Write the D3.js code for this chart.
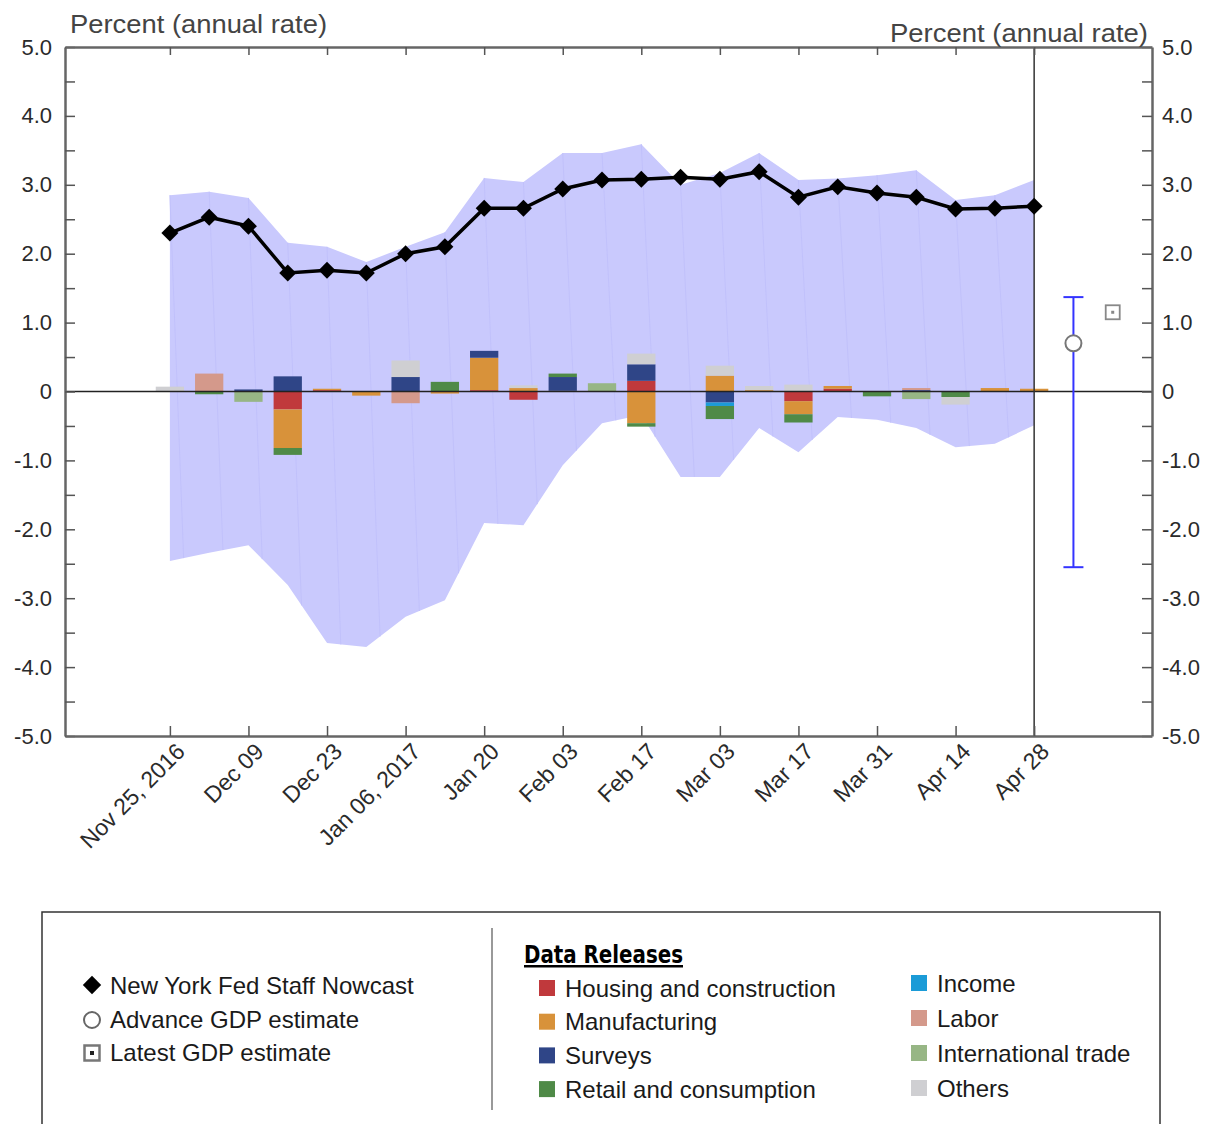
<!DOCTYPE html>
<html>
<head>
<meta charset="utf-8">
<script src="https://cdn.jsdelivr.net/npm/d3@7"></script>
<style>
  body { margin: 0; background: #fff; }
  svg { display: block; font-family: "Liberation Sans", Arial, sans-serif; }
</style>
</head>
<body>
<svg width="1207" height="1124"></svg>
<script>
// weekly nowcast, Nov 25 2016 .. Apr 28 2017
var weeks = ["Nov 25, 2016", "Dec 02", "Dec 09", "Dec 16", "Dec 23", "Dec 30", "Jan 06, 2017", "Jan 13",
  "Jan 20", "Jan 27", "Feb 03", "Feb 10", "Feb 17", "Feb 24", "Mar 03", "Mar 10", "Mar 17",
  "Mar 24", "Mar 31", "Apr 07", "Apr 14", "Apr 21", "Apr 28"];
var tickLabels = ["Nov 25, 2016", "Dec 09", "Dec 23", "Jan 06, 2017", "Jan 20", "Feb 03",
  "Feb 17", "Mar 03", "Mar 17", "Mar 31", "Apr 14", "Apr 28"];

var nowcast = [2.30, 2.53, 2.40, 1.72, 1.76, 1.72, 2.00, 2.10, 2.66, 2.66, 2.94, 3.07, 3.08,
  3.11, 3.08, 3.19, 2.82, 2.97, 2.88, 2.82, 2.65, 2.66, 2.69];
var bandHigh = [2.85, 2.90, 2.81, 2.16, 2.10, 1.88, 2.10, 2.31, 3.10, 3.04, 3.46, 3.46, 3.59,
  3.00, 3.17, 3.46, 3.07, 3.09, 3.14, 3.21, 2.78, 2.85, 3.07];
var bandLow = [-2.46, -2.34, -2.23, -2.81, -3.65, -3.71, -3.27, -3.03, -1.91, -1.94, -1.07, -0.46,
  -0.34, -1.24, -1.24, -0.53, -0.88, -0.37, -0.41, -0.53, -0.81, -0.76, -0.49];

// impact of data releases, by week
var housing       = [0, 0, 0, -0.26, 0.02, 0, 0, 0, 0.02, -0.12, 0, 0, 0.155, 0, 0, 0, -0.14, 0.04, 0, 0, 0, 0, 0];
var manufacturing = [0, 0, 0, -0.56, 0.02, -0.06, 0, -0.03, 0.47, 0.05, 0.01, 0, -0.46, 0, 0.23, 0.02, -0.19, 0.04, 0, 0, 0, 0.05, 0.04];
var surveys       = [0, 0, 0.03, 0.22, 0, 0, 0.21, 0, 0.10, 0, 0.20, 0, 0.24, 0, -0.16, 0, 0, 0, 0, 0.02, 0, 0, 0];
var income        = [0, 0, 0, 0, 0, 0, 0, 0, 0, 0, 0, 0, 0, 0, -0.05, 0, 0, 0, 0, 0, 0, 0, 0];
var retail        = [0, -0.04, 0, -0.10, 0, 0, 0, 0.14, 0, 0, 0.05, 0, -0.05, 0, -0.19, 0, -0.12, 0, -0.07, 0, -0.08, 0, 0];
var labor         = [0, 0.26, 0, 0, 0, 0, -0.17, 0, 0, 0, 0, 0, 0, 0, 0, 0, 0, 0, 0, 0.03, 0, 0, 0];
var trade         = [0, 0, -0.15, 0, 0, 0, 0, 0, 0, 0, 0, 0.12, 0, 0, 0, 0, 0, 0, 0, -0.11, 0, 0, 0];
var others        = [0.07, 0, 0, 0, 0, 0, 0.24, 0, 0, 0.04, 0, 0, 0.155, 0, 0.145, 0.06, 0.10, 0, 0, 0, -0.11, 0, 0];

// GDP estimates (placed one and two weeks after the last nowcast)
var advanceGDP = 0.7;
var advanceRange = [-2.55, 1.37];
var latestGDP = 1.15;

var yTicks = d3.range(-5, 5.01, 0.5);

var groups = ["Housing and construction", "Manufacturing", "Surveys", "Income",
  "Retail and consumption", "Labor", "International trade", "Others"];
var seriesVals = [housing, manufacturing, surveys, income, retail, labor, trade, others];
var colors = ["#c0393c", "#d8923a", "#2f4587", "#1b9bd7", "#4f8a47", "#d4998b", "#97b685", "#cfcfd2"];

var svg = d3.select('svg');

// plot frame (window.top is reserved, so named pTop etc.)
var pLeft = 65, pRight = 1152, pTop = 47, pBottom = 736;

var x = d3.scaleLinear().domain([-2.67, 25]).range([pLeft, pRight]);
var y = d3.scaleLinear().domain([-5, 5]).range([pBottom, pTop]);
var step = x(1) - x(0);
var bw = step * 0.72;

var color = d3.scaleOrdinal().domain(groups).range(colors);

// band
var bandData = weeks.map(function (d, i) { return { i: i, hi: bandHigh[i], lo: bandLow[i] }; });
svg.append('path')
  .datum(bandData)
  .attr('d', d3.area().x(function (d) { return x(d.i); })
    .y0(function (d) { return y(d.lo); })
    .y1(function (d) { return y(d.hi); }))
  .style('fill', '#c9c9fd');

// faint seams inside the band
svg.append('g').selectAll('line')
  .data(bandData.slice(0, -1))
  .enter().append('line')
  .attr('x1', function (d) { return x(d.i); })
  .attr('y1', function (d) { return y(d.hi); })
  .attr('x2', function (d) { return x(d.i + 0.35); })
  .attr('y2', function (d) { return y(d.lo + (bandLow[d.i + 1] - d.lo) * 0.35); })
  .style('stroke', '#c1c1fb')
  .style('stroke-width', 1);

// stacked bars
var table = weeks.map(function (w, i) {
  var row = { i: i };
  groups.forEach(function (g, k) { row[g] = seriesVals[k][i]; });
  return row;
});
var stacked = d3.stack().keys(groups).offset(d3.stackOffsetDiverging)(table);

svg.append('g').selectAll('g')
  .data(stacked)
  .enter().append('g')
  .style('fill', function (d) { return color(d.key); })
  .selectAll('rect')
  .data(function (d) { return d; })
  .enter().append('rect')
  .attr('x', function (d) { return x(d.data.i) - bw / 2; })
  .attr('width', bw)
  .attr('y', function (d) { return y(Math.max(d[0], d[1])); })
  .attr('height', function (d) { return Math.abs(y(d[0]) - y(d[1])); });

// zero line
svg.append('line')
  .attr('x1', pLeft).attr('x2', pRight)
  .attr('y1', y(0)).attr('y2', y(0))
  .style('stroke', '#222').style('stroke-width', 1.5);

// vertical line at last nowcast
svg.append('line')
  .attr('x1', x(weeks.length - 1)).attr('x2', x(weeks.length - 1))
  .attr('y1', pTop).attr('y2', pBottom)
  .style('stroke', '#333').style('stroke-width', 1.5);

// axes
var tickIdx = d3.range(0, weeks.length, 2);

var yFmt = function (d) {
  if (Math.abs(d % 1) > 0.01) return '';
  return Math.abs(d) < 0.01 ? '0' : d.toFixed(1);
};

var axisStyle = function (g) {
  g.select('.domain').style('stroke', '#666').style('stroke-width', 2.5);
  g.selectAll('.tick line').style('stroke', '#555').style('stroke-width', 1.5);
  g.selectAll('.tick text').style('font-size', '22px').style('fill', '#2a2a2a');
};

svg.append('g')
  .attr('transform', 'translate(' + pLeft + ',0)')
  .call(d3.axisLeft(y).tickValues(yTicks).tickFormat(yFmt).tickSize(-10).tickSizeOuter(0).tickPadding(13))
  .call(axisStyle);

svg.append('g')
  .attr('transform', 'translate(' + pRight + ',0)')
  .call(d3.axisRight(y).tickValues(yTicks).tickFormat(yFmt).tickSize(-10).tickSizeOuter(0).tickPadding(10))
  .call(axisStyle);

svg.append('g')
  .attr('transform', 'translate(0,' + pTop + ')')
  .call(d3.axisTop(x).tickValues(tickIdx).tickFormat('').tickSize(-8).tickSizeOuter(0))
  .call(axisStyle);

var xAxis = svg.append('g')
  .attr('transform', 'translate(0,' + pBottom + ')')
  .call(d3.axisBottom(x).tickValues(tickIdx)
    .tickFormat(function (d, k) { return tickLabels[k]; })
    .tickSize(-10).tickSizeOuter(0))
  .call(axisStyle);

xAxis.selectAll('.tick text')
  .attr('text-anchor', 'end')
  .attr('dy', null)
  .attr('transform', 'translate(16,17) rotate(-45)')
  .attr('y', 0).attr('x', 0)
  .style('font-size', '23px');

// axis titles
svg.append('text')
  .text('Percent (annual rate)')
  .attr('x', 70).attr('y', 33)
  .attr('textLength', 257).attr('lengthAdjust', 'spacingAndGlyphs')
  .style('font-size', '25px').style('fill', '#444');

svg.append('text')
  .text('Percent (annual rate)')
  .attr('x', 890).attr('y', 42)
  .attr('textLength', 258).attr('lengthAdjust', 'spacingAndGlyphs')
  .style('font-size', '25px').style('fill', '#444');

// nowcast line
var pts = nowcast.map(function (v, i) { return { i: i, v: v }; });
svg.append('path')
  .datum(pts)
  .attr('d', d3.line().x(function (d) { return x(d.i); }).y(function (d) { return y(d.v); }))
  .style('fill', 'none').style('stroke', '#000').style('stroke-width', 3.5);

svg.append('g').selectAll('path')
  .data(pts)
  .enter().append('path')
  .attr('transform', function (d) { return 'translate(' + x(d.i) + ',' + y(d.v) + ') rotate(45)'; })
  .attr('d', 'M-6,-6H6V6H-6Z')
  .style('fill', '#000');

// advance GDP estimate with range
var gx = x(weeks.length);
svg.append('line')
  .attr('x1', gx).attr('x2', gx)
  .attr('y1', y(advanceRange[0])).attr('y2', y(advanceRange[1]))
  .style('stroke', '#3434ff').style('stroke-width', 2);
svg.selectAll('.cap')
  .data(advanceRange)
  .enter().append('line')
  .attr('x1', gx - 10).attr('x2', gx + 10)
  .attr('y1', function (d) { return y(d); }).attr('y2', function (d) { return y(d); })
  .style('stroke', '#3434ff').style('stroke-width', 2);
svg.append('circle')
  .attr('cx', gx).attr('cy', y(advanceGDP)).attr('r', 8)
  .style('fill', '#fff').style('stroke', '#777').style('stroke-width', 2);

// latest GDP estimate
var lx = x(weeks.length + 1);
svg.append('rect')
  .attr('x', lx - 7).attr('y', y(latestGDP) - 7)
  .attr('width', 14).attr('height', 14)
  .style('fill', '#fff').style('stroke', '#888').style('stroke-width', 1.8);
svg.append('rect')
  .attr('x', lx - 1.5).attr('y', y(latestGDP) - 1.5)
  .attr('width', 3).attr('height', 3)
  .style('fill', '#888');

// legend
var lg = svg.append('g');
lg.append('rect')
  .attr('x', 42).attr('y', 912).attr('width', 1118).attr('height', 240)
  .style('fill', 'none').style('stroke', '#333').style('stroke-width', 1.5);
lg.append('line')
  .attr('x1', 492).attr('x2', 492).attr('y1', 928).attr('y2', 1110)
  .style('stroke', '#777').style('stroke-width', 1.5);

var legFont = '24px';

lg.append('path')
  .attr('transform', 'translate(92,985) rotate(45)')
  .attr('d', 'M-6.5,-6.5H6.5V6.5H-6.5Z').style('fill', '#000');
lg.append('circle')
  .attr('cx', 92).attr('cy', 1020).attr('r', 8)
  .style('fill', '#fff').style('stroke', '#666').style('stroke-width', 2);
lg.append('rect')
  .attr('x', 84.5).attr('y', 1045.5).attr('width', 15).attr('height', 15)
  .style('fill', '#fff').style('stroke', '#777').style('stroke-width', 2.5);
lg.append('rect')
  .attr('x', 90).attr('y', 1051).attr('width', 4).attr('height', 4)
  .style('fill', '#222');

var leftItems = ['New York Fed Staff Nowcast', 'Advance GDP estimate', 'Latest GDP estimate'];
lg.selectAll('.li')
  .data(leftItems)
  .enter().append('text')
  .text(function (d) { return d; })
  .attr('x', 110)
  .attr('y', function (d, k) { return 994 + k * 33.5; })
  .style('font-size', legFont).style('fill', '#1a1a1a');

lg.append('text')
  .text('Data Releases')
  .attr('x', 524).attr('y', 963)
  .attr('textLength', 159).attr('lengthAdjust', 'spacingAndGlyphs')
  .style('font-family', '"Liberation Sans Narrow", "DejaVu Sans Condensed", sans-serif')
  .style('font-weight', 'bold')
  .style('font-size', '25px')
  .style('text-decoration', 'underline')
  .style('fill', '#000');

var leftCol = [groups[0], groups[1], groups[2], groups[4]];
var rightCol = [groups[3], groups[5], groups[6], groups[7]];

var colGroups = [
  { items: leftCol, x: 539, y0: 988, dy: 33.7 },
  { items: rightCol, x: 911, y0: 983, dy: 35 }
];

colGroups.forEach(function (cg) {
  var gg = lg.append('g').selectAll('g')
    .data(cg.items)
    .enter().append('g')
    .attr('transform', function (d, k) { return 'translate(' + cg.x + ',' + (cg.y0 + k * cg.dy) + ')'; });
  gg.append('rect')
    .attr('x', 0).attr('y', -8).attr('width', 16).attr('height', 16)
    .style('fill', function (d) { return color(d); });
  gg.append('text')
    .text(function (d) { return d; })
    .attr('x', 26).attr('y', 8.5)
    .style('font-size', legFont).style('fill', '#1a1a1a');
});
</script>
</body>
</html>
